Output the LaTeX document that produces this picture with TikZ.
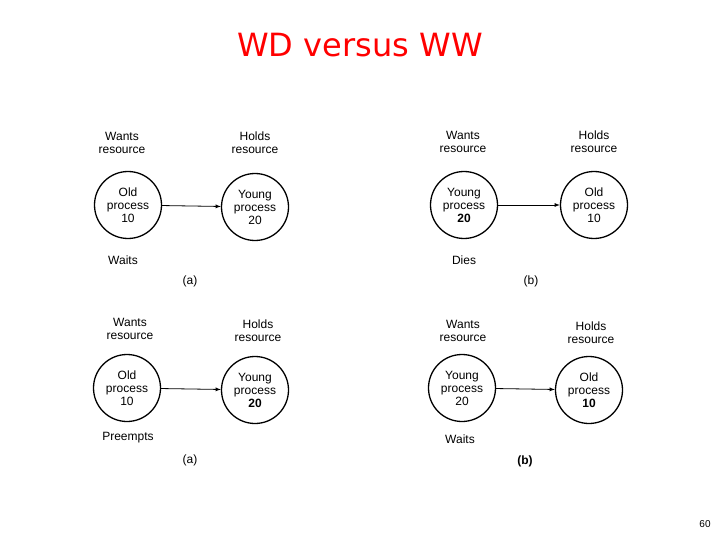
\documentclass[tikz,border=0pt]{standalone}
\usepackage{fontspec}
\setmainfont{Liberation Sans}
\newfontfamily\titlefont{DejaVu Sans}
\begin{document}
\begin{tikzpicture}[x=1pt,y=-1pt,
  proc/.style={circle,draw,line width=1.3pt,minimum size=67pt,inner sep=0pt,align=center,font=\fontsize{12}{13}\selectfont},
  lbl/.style={align=center,font=\fontsize{12}{13}\selectfont},
  arr/.style={-latex,line width=0.8pt}]
\useasboundingbox (0,0) rectangle (720,540);
\node[text=red,font=\titlefont\fontsize{32}{36}\selectfont] (title) at (360,45) {WD versus WW};
% top-left
\node[proc] (a1) at (128,205) {Old\\process\\10};
\node[proc] (b1) at (255,207) {Young\\process\\20};
\draw[arr] (a1) -- (b1);
\node[lbl] (w1) at (122,143) {Wants\\resource};
\node[lbl] (h1) at (255,143) {Holds\\resource};
\node[lbl] (s1) at (123,260) {Waits};
\node[lbl] (c1) at (190,281) {(a)};
% top-right
\node[proc] (a2) at (464,205) {Young\\process\\\textbf{20}};
\node[proc] (b2) at (594,205) {Old\\process\\10};
\draw[arr] (a2) -- (b2);
\node[lbl] (w2) at (463,142) {Wants\\resource};
\node[lbl] (h2) at (594,142) {Holds\\resource};
\node[lbl] (s2) at (464,260) {Dies};
\node[lbl] (c2) at (531,281) {(b)};
% bottom-left
\node[proc] (a3) at (127,388) {Old\\process\\10};
\node[proc] (b3) at (255,390) {Young\\process\\\textbf{20}};
\draw[arr] (a3) -- (b3);
\node[lbl] (w3) at (130,329) {Wants\\resource};
\node[lbl] (h3) at (258,331) {Holds\\resource};
\node[lbl] (s3) at (128,438) {Preempts};
\node[lbl] (c3) at (190,460) {(a)};
% bottom-right
\node[proc] (a4) at (462,388) {Young\\process\\20};
\node[proc] (b4) at (589,390) {Old\\process\\\textbf{10}};
\draw[arr] (a4) -- (b4);
\node[lbl] (w4) at (463,331) {Wants\\resource};
\node[lbl] (h4) at (591,333) {Holds\\resource};
\node[lbl] (s4) at (460,439) {Waits};
\node[lbl] (c4) at (525,461) {\textbf{(b)}};
\node[font=\fontsize{10}{12}\selectfont] (pg) at (705,524) {60};
\end{tikzpicture}
\end{document}
